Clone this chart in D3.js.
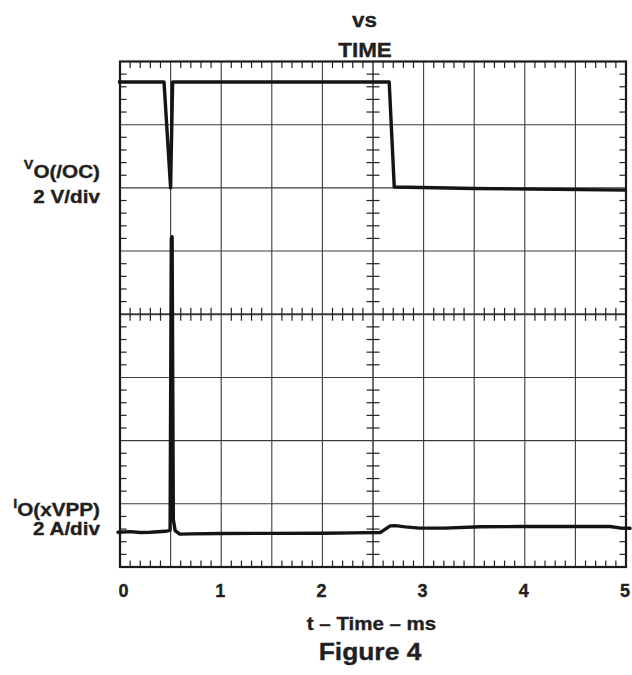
<!DOCTYPE html>
<html><head><meta charset="utf-8">
<script src="https://cdn.jsdelivr.net/npm/d3@7"></script>
<style>
body{margin:0;background:#fff}
svg{display:block}
text{font-family:"Liberation Sans",Arial,Helvetica,sans-serif;font-weight:bold;fill:#231f20;stroke:#231f20;stroke-width:0.35px}
</style>
</head><body>
<svg id="c" width="632" height="675"></svg>
<script>
// ---- data ----
const timeTicks = [0, 1, 2, 3, 4, 5];               // ms
const vTime  = [-0.02, 0.435, 0.50, 0.52, 2.66, 2.71, 3.5, 5.0];
const vVolts = [3.35, 3.35, 0.0, 3.35, 3.35, 0.03, -0.02, -0.07];
const iTime  = [-0.02, 0.1, 0.2, 0.3, 0.45, 0.495, 0.507, 0.515, 0.527, 0.545, 0.59, 0.7, 1.0, 1.5, 2.0, 2.3, 2.57, 2.6, 2.67, 2.72, 2.82, 2.96, 3.21, 3.56, 3.95, 4.55, 4.84, 4.94, 5.04];
const iAmps  = [0.0, 0.02, -0.01, 0.0, 0.03, 0.06, 9.3, 9.35, 0.4, 0.05, -0.06, -0.05, -0.04, -0.035, -0.03, -0.02, -0.01, 0.05, 0.2, 0.21, 0.17, 0.13, 0.13, 0.175, 0.18, 0.18, 0.18, 0.14, 0.125];
const titleLines = ["vs", "TIME"];
const xLabel = "t \u2013 Time \u2013 ms";
const figLabel = "Figure 4";

const svg = d3.select("#c");
const L = 120, R = 626, T = 61.5, B = 567;
const xs = d3.scaleLinear().domain([0, 5]).range([L, R]);
const ys = d3.scaleLinear().domain([-4, 4]).range([B, T]);      // screen divisions
const yV = d3.scaleLinear().domain([-12, 4]).range([B, T]);     // 2 V/div
const yI = d3.scaleLinear().domain([-1.1, 14.9]).range([B, T]); // 2 A/div

const g = svg.append("g");
const gridCol = "#3a3a3a";

// grid lines
const vGrid = d3.range(0.5, 5, 0.5);
g.selectAll(".vg").data(vGrid).join("line")
  .attr("x1", d => xs(d)).attr("x2", d => xs(d)).attr("y1", T).attr("y2", B)
  .attr("stroke", gridCol).attr("stroke-width", d => d === 2.5 ? 1.5 : 1.1);
const hGrid = d3.range(-3, 4, 1);
g.selectAll(".hg").data(hGrid).join("line")
  .attr("x1", L).attr("x2", R).attr("y1", d => ys(d)).attr("y2", d => ys(d))
  .attr("stroke", gridCol).attr("stroke-width", d => d === 0 ? 1.8 : 1.1);

// minor ticks
const tMinor = d3.range(0, 5.0001, 0.1).filter(t => Math.abs(t * 2 - Math.round(t * 2)) > 1e-6);
const dMinor = d3.range(-4, 4.0001, 0.2).filter(d => Math.abs(d - Math.round(d)) > 1e-6);
const tk = 6.5;
const tickG = g.append("g").attr("stroke", "#222").attr("stroke-width", 1.2);
tMinor.forEach(t => {
  const x = xs(t);
  tickG.append("line").attr("x1", x).attr("x2", x).attr("y1", T).attr("y2", T + tk);
  tickG.append("line").attr("x1", x).attr("x2", x).attr("y1", B).attr("y2", B - tk);
  tickG.append("line").attr("x1", x).attr("x2", x).attr("y1", ys(0) - tk).attr("y2", ys(0) + tk);
});
dMinor.forEach(d => {
  const y = ys(d);
  tickG.append("line").attr("x1", L).attr("x2", L + tk).attr("y1", y).attr("y2", y);
  tickG.append("line").attr("x1", R).attr("x2", R - tk).attr("y1", y).attr("y2", y);
  tickG.append("line").attr("x1", xs(2.5) - tk).attr("x2", xs(2.5) + tk).attr("y1", y).attr("y2", y);
});

// frame
g.append("rect").attr("x", L).attr("y", T).attr("width", R - L).attr("height", B - T)
  .attr("fill", "none").attr("stroke", "#1a1a1a").attr("stroke-width", 2.2);

// traces
const lineV = d3.line().x((d, i) => xs(vTime[i])).y(d => yV(d));
const lineI = d3.line().x((d, i) => xs(iTime[i])).y(d => yI(d));
g.append("path").attr("d", lineV(vVolts)).attr("fill", "none").attr("stroke", "#141414")
  .attr("stroke-width", 3.4).attr("stroke-linejoin", "round");
g.append("path").attr("d", lineI(iAmps)).attr("fill", "none").attr("stroke", "#141414")
  .attr("stroke-width", 3.4).attr("stroke-linejoin", "round").attr("stroke-linecap", "round");

// helper for slightly wide text
function wtext(x, y, sx, size, anchor) {
  return svg.append("g").attr("transform", `translate(${x},${y}) scale(${sx},1)`)
    .append("text").attr("text-anchor", anchor).attr("font-size", size);
}

// x axis labels
const ax = svg.append("g").attr("transform", `translate(0,${B})`)
  .call(d3.axisBottom(xs).tickValues(timeTicks).tickSize(0).tickPadding(0).tickFormat(d3.format("d")));
ax.select(".domain").remove();
ax.selectAll(".tick text")
  .attr("font-size", 18).attr("font-family", null).attr("fill", "#231f20")
  .attr("dy", 0).attr("y", 29.5)
  .attr("x", d => d === 0 ? 3 : -1.5)
  .attr("transform", null);

// titles
wtext(364.5, 27, 1.07, 21, "middle").text(titleLines[0]);
wtext(365, 57, 1.07, 21, "middle").text(titleLines[1]);
wtext(371.5, 630, 1.17, 17.5, "middle").text(xLabel);
wtext(370, 660, 1.1, 24, "middle").text(figLabel);

// y labels
const v1 = wtext(100, 178, 1.15, 18, "end");
v1.append("tspan").attr("font-size", 12.5).attr("dy", -9).text("V");
v1.append("tspan").attr("dy", 9).text("O(/OC)");
wtext(100, 202.5, 1.15, 18, "end").text("2 V/div");
const i1 = wtext(100, 516, 1.15, 18, "end");
i1.append("tspan").attr("font-size", 12.5).attr("dy", -8).text("I");
i1.append("tspan").attr("dy", 8).text("O(xVPP)");
wtext(100, 535, 1.15, 18, "end").text("2 A/div");
</script>
</body></html>
